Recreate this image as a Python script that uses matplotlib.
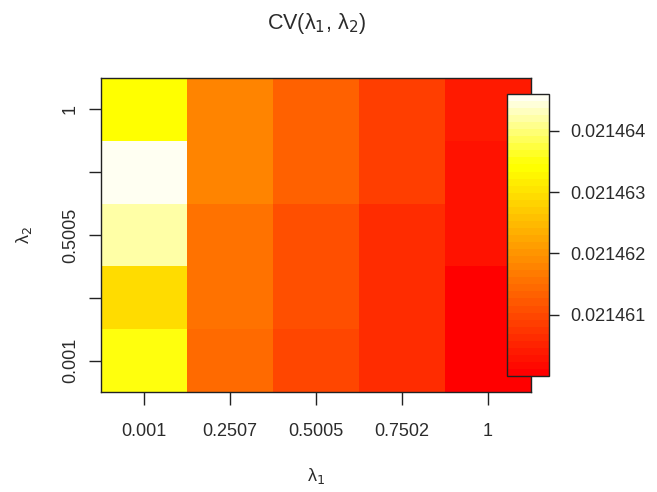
import colorsys
import numpy as np
import matplotlib
matplotlib.use("Agg")
import matplotlib.pyplot as plt
from matplotlib.colors import ListedColormap, Normalize

plt.rcParams['font.family'] = ['Liberation Sans', 'DejaVu Sans']
plt.rcParams['text.color'] = '#2b2b2b'
plt.rcParams['xtick.labelcolor'] = '#2b2b2b'
plt.rcParams['ytick.labelcolor'] = '#2b2b2b'
plt.rcParams['axes.labelcolor'] = '#2b2b2b'

# grid of tuning parameters and cross-validated error
lambda1_labels = ["0.001", "0.2507", "0.5005", "0.7502", "1"]
lambda2_labels = ["0.001", "", "0.5005", "", "1"]
# rows: lambda2 from 0.001 (bottom) to 1 (top); columns: lambda1
cv = np.array([
    [0.0214635, 0.02146143, 0.02146101, 0.02146060, 0.0214600],
    [0.02146288, 0.02146156, 0.02146115, 0.02146060, 0.0214600],
    [0.02146419, 0.02146156, 0.02146115, 0.02146060, 0.02146023],
    [0.0214646, 0.02146173, 0.02146133, 0.02146083, 0.02146023],
    [0.02146345, 0.02146173, 0.02146133, 0.02146083, 0.02146041],
])
cbar_ticks = [0.021461, 0.021462, 0.021463, 0.021464]


def heat_colors(n):
    # same construction as R's heat.colors()
    j = n // 4
    i = n - j
    cols = [colorsys.hsv_to_rgb(h, 1, 1) for h in np.linspace(0, 1 / 6, i)]
    if j > 0:
        for s in np.linspace(1 - 1 / (2 * j), 1 / (2 * j), j):
            cols.append(colorsys.hsv_to_rgb(1 / 6, s, 1))
    return cols


cmap = ListedColormap(heat_colors(40))
norm = Normalize(vmin=cv.min(), vmax=cv.max())

W, H = 657, 492
fig = plt.figure(figsize=(W / 100, H / 100), dpi=100)
ax = fig.add_axes([101 / W, 1 - 392 / H, 430 / W, 314 / H])

nx, ny = len(lambda1_labels), len(lambda2_labels)
mesh = ax.pcolormesh(np.arange(nx + 1) - 0.5, np.arange(ny + 1) - 0.5, cv,
                     cmap=cmap, norm=norm)
ax.set_xlim(-0.5, nx - 0.5)
ax.set_ylim(-0.5, ny - 0.5)

ax.set_xticks(np.arange(nx))
ax.set_xticklabels(lambda1_labels)
ax.set_yticks(np.arange(ny))
ax.set_yticklabels(lambda2_labels, rotation=90, va='center')
ax.tick_params(axis='x', length=9, width=1, pad=13, labelsize=13, color='#222222')
ax.tick_params(axis='y', length=9, width=1, pad=7, labelsize=13, color='#222222')
for sp in ax.spines.values():
    sp.set_linewidth(1)
    sp.set_color('#222222')

ax.set_xlabel("λ$_1$", fontsize=13, labelpad=19)
ax.set_ylabel("λ$_2$", fontsize=13, labelpad=20)
ax.set_title("CV(λ$_1$, λ$_2$)", fontsize=15.5, pad=35)

# legend strip drawn over the right side of the grid
cax = fig.add_axes([507 / W, 1 - 376 / H, 42 / W, 282 / H])
cb = fig.colorbar(mesh, cax=cax, ticks=cbar_ticks, format='%.6f')
cb.outline.set_linewidth(1)
cb.outline.set_edgecolor('#222222')
cax.tick_params(length=7, width=1, pad=8, labelsize=13, color='#222222')

fig.savefig("out.png", dpi=100)
